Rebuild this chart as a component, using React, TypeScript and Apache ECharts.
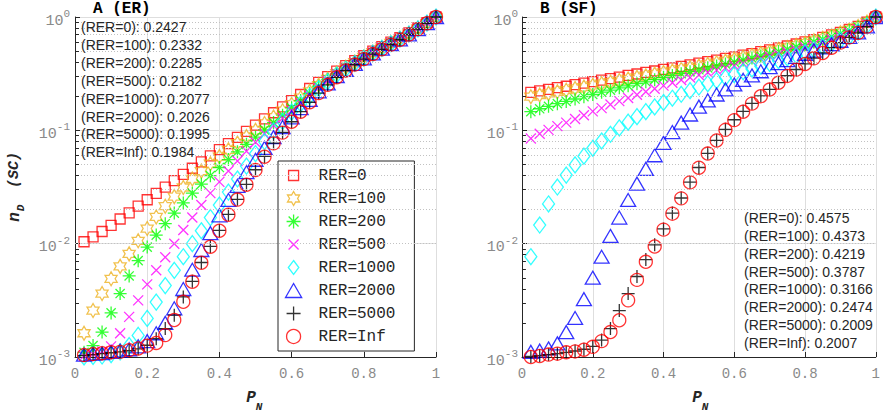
import React, { useEffect, useRef } from 'react';
import * as echarts from 'echarts';

// ---------------- data ----------------
const PN = [0.025, 0.05, 0.075, 0.1, 0.125, 0.15, 0.175, 0.2, 0.225, 0.25, 0.275, 0.3, 0.325, 0.35, 0.375, 0.4, 0.425, 0.45, 0.475, 0.5,
  0.525, 0.55, 0.575, 0.6, 0.625, 0.65, 0.675, 0.7, 0.725, 0.75, 0.775, 0.8, 0.825, 0.85, 0.875, 0.9, 0.925, 0.95, 0.975, 1.0];

const NAMES = ['RER=0', 'RER=100', 'RER=200', 'RER=500', 'RER=1000', 'RER=2000', 'RER=5000', 'RER=Inf'];
const RER_TAGS = ['0', '100', '200', '500', '1000', '2000', '5000', 'Inf'];
const SCORE_ER = [0.2427, 0.2332, 0.2285, 0.2182, 0.2077, 0.2026, 0.1995, 0.1984];
const SCORE_SF = [0.4575, 0.4373, 0.4219, 0.3787, 0.3166, 0.2474, 0.2009, 0.2007];

// Panel A (ER)
const ER_0 = [0.0104, 0.0115, 0.0128, 0.0145, 0.0165, 0.0187, 0.0214, 0.0244, 0.0278, 0.0316, 0.0360, 0.0408, 0.0463, 0.0526, 0.0596, 0.0675, 0.0764, 0.0865, 0.0980, 0.111,
  0.126, 0.143, 0.161, 0.183, 0.207, 0.234, 0.265, 0.298, 0.333, 0.372, 0.412, 0.455, 0.500, 0.548, 0.600, 0.658, 0.724, 0.802, 0.891, 1.0];
const ER_100 = [0.00162, 0.00257, 0.00363, 0.00490, 0.00631, 0.00813, 0.0106, 0.0136, 0.0172, 0.0214, 0.0260, 0.0313, 0.0372, 0.0437, 0.0507, 0.0586, 0.0673, 0.0771, 0.0881, 0.100,
  0.115, 0.131, 0.149, 0.170, 0.194, 0.221, 0.251, 0.284, 0.320, 0.359, 0.400, 0.444, 0.489, 0.537, 0.590, 0.649, 0.716, 0.794, 0.889, 1.0];
const ER_200 = [0.00110, 0.00126, 0.00166, 0.00245, 0.00363, 0.00519, 0.00708, 0.00933, 0.0119, 0.0150, 0.0186, 0.0229, 0.0279, 0.0335, 0.0398, 0.0470, 0.0552, 0.0646, 0.0752, 0.0871,
  0.101, 0.117, 0.136, 0.158, 0.183, 0.212, 0.245, 0.281, 0.316, 0.356, 0.397, 0.441, 0.486, 0.535, 0.588, 0.646, 0.714, 0.793, 0.887, 1.0];
const ER_500 = [0.00102, 0.00106, 0.00112, 0.00124, 0.00162, 0.00226, 0.00316, 0.00437, 0.00582, 0.00759, 0.0100, 0.0132, 0.0170, 0.0219, 0.0279, 0.0351, 0.0437, 0.0537, 0.0653, 0.0785,
  0.0933, 0.110, 0.128, 0.149, 0.173, 0.203, 0.237, 0.274, 0.313, 0.352, 0.394, 0.439, 0.484, 0.532, 0.585, 0.643, 0.711, 0.791, 0.885, 1.0];
const ER_1000 = [0.00100, 0.00101, 0.00102, 0.00105, 0.00111, 0.00126, 0.00155, 0.00219, 0.00305, 0.00427, 0.00582, 0.00767, 0.0100, 0.0130, 0.0170, 0.0219, 0.0285, 0.0372, 0.0484, 0.0624,
  0.0794, 0.0989, 0.120, 0.145, 0.171, 0.200, 0.233, 0.269, 0.308, 0.347, 0.389, 0.434, 0.480, 0.528, 0.581, 0.638, 0.705, 0.785, 0.883, 1.0];
const ER_2000 = [0.00105, 0.00107, 0.00108, 0.00111, 0.00114, 0.00117, 0.00124, 0.00138, 0.00162, 0.00200, 0.00269, 0.00398, 0.00589, 0.00879, 0.0124, 0.0178, 0.0243, 0.0324, 0.0427, 0.0550,
  0.0700, 0.0871, 0.107, 0.130, 0.157, 0.186, 0.221, 0.260, 0.301, 0.342, 0.386, 0.431, 0.478, 0.526, 0.578, 0.635, 0.703, 0.783, 0.883, 1.0];
const ER_5000 = [0.00103, 0.00105, 0.00107, 0.00109, 0.00111, 0.00114, 0.00118, 0.00127, 0.00145, 0.00178, 0.00234, 0.00339, 0.00465, 0.00682, 0.00945, 0.0131, 0.0181, 0.0246, 0.0333, 0.0449,
  0.0588, 0.0770, 0.0958, 0.119, 0.146, 0.177, 0.213, 0.252, 0.294, 0.337, 0.380, 0.425, 0.471, 0.519, 0.570, 0.630, 0.700, 0.782, 0.881, 1.0];
const ER_INF = [0.00104, 0.00106, 0.00108, 0.00110, 0.00111, 0.00115, 0.00119, 0.00126, 0.00133, 0.00156, 0.00212, 0.00307, 0.00461, 0.00679, 0.00940, 0.0130, 0.0180, 0.0245, 0.0331, 0.0447,
  0.0585, 0.0767, 0.0955, 0.119, 0.146, 0.177, 0.213, 0.252, 0.294, 0.337, 0.380, 0.425, 0.471, 0.519, 0.570, 0.630, 0.700, 0.782, 0.881, 1.0];

// Panel B (SF)
const SF_0 = [0.216, 0.223, 0.230, 0.238, 0.245, 0.253, 0.261, 0.269, 0.277, 0.286, 0.295, 0.305, 0.314, 0.324, 0.334, 0.345, 0.356, 0.367, 0.378, 0.391,
  0.404, 0.417, 0.431, 0.445, 0.460, 0.476, 0.494, 0.513, 0.533, 0.555, 0.578, 0.603, 0.631, 0.661, 0.695, 0.733, 0.776, 0.828, 0.902, 1.0];
const SF_100 = [0.198, 0.205, 0.212, 0.219, 0.226, 0.234, 0.241, 0.249, 0.258, 0.266, 0.275, 0.284, 0.293, 0.303, 0.313, 0.324, 0.334, 0.346, 0.356, 0.369,
  0.382, 0.395, 0.409, 0.424, 0.440, 0.457, 0.475, 0.494, 0.515, 0.538, 0.562, 0.587, 0.618, 0.649, 0.684, 0.724, 0.769, 0.822, 0.900, 1.0];
const SF_200 = [0.146, 0.155, 0.163, 0.172, 0.180, 0.189, 0.198, 0.207, 0.217, 0.226, 0.237, 0.247, 0.258, 0.268, 0.280, 0.292, 0.304, 0.316, 0.329, 0.342,
  0.356, 0.370, 0.385, 0.400, 0.417, 0.434, 0.453, 0.473, 0.495, 0.519, 0.545, 0.571, 0.603, 0.635, 0.673, 0.713, 0.760, 0.817, 0.895, 1.0];
const SF_500 = [0.0847, 0.0933, 0.101, 0.109, 0.117, 0.126, 0.136, 0.147, 0.157, 0.169, 0.181, 0.193, 0.206, 0.219, 0.233, 0.248, 0.263, 0.278, 0.293, 0.308,
  0.324, 0.340, 0.356, 0.372, 0.390, 0.408, 0.428, 0.448, 0.469, 0.491, 0.515, 0.541, 0.569, 0.600, 0.634, 0.673, 0.719, 0.780, 0.867, 1.0];
const SF_1000 = [0.00767, 0.0146, 0.0224, 0.0316, 0.0403, 0.0495, 0.0592, 0.0695, 0.0805, 0.0923, 0.105, 0.118, 0.132, 0.146, 0.161, 0.176, 0.192, 0.208, 0.224, 0.241,
  0.258, 0.275, 0.292, 0.310, 0.329, 0.348, 0.368, 0.389, 0.411, 0.435, 0.459, 0.486, 0.515, 0.547, 0.582, 0.622, 0.671, 0.736, 0.836, 1.0];
const SF_2000 = [0.00111, 0.00114, 0.00119, 0.00132, 0.00166, 0.00221, 0.00324, 0.00501, 0.00767, 0.0117, 0.0170, 0.0243, 0.0339, 0.0457, 0.0603, 0.0776, 0.0966, 0.117, 0.138, 0.162,
  0.184, 0.207, 0.230, 0.254, 0.279, 0.305, 0.332, 0.361, 0.391, 0.417, 0.445, 0.474, 0.506, 0.540, 0.575, 0.617, 0.667, 0.731, 0.828, 1.0];
const SF_5000 = [0.00101, 0.00103, 0.00105, 0.00107, 0.00110, 0.00113, 0.00117, 0.00124, 0.00141, 0.00178, 0.00257, 0.00363, 0.00513, 0.00724, 0.00977, 0.0135, 0.0186, 0.0253, 0.0349, 0.0470,
  0.0627, 0.0816, 0.102, 0.124, 0.147, 0.173, 0.201, 0.230, 0.264, 0.303, 0.344, 0.386, 0.433, 0.482, 0.536, 0.595, 0.662, 0.725, 0.823, 1.0];
const SF_INF = [0.00100, 0.00102, 0.00105, 0.00107, 0.00110, 0.00112, 0.00116, 0.00123, 0.00138, 0.00166, 0.00211, 0.00316, 0.00479, 0.00692, 0.00944, 0.0133, 0.0184, 0.0251, 0.0347, 0.0468,
  0.0624, 0.0813, 0.101, 0.123, 0.146, 0.172, 0.200, 0.229, 0.263, 0.302, 0.343, 0.385, 0.432, 0.481, 0.535, 0.594, 0.661, 0.724, 0.822, 1.0];

const Y_MINOR = [0.002, 0.003, 0.004, 0.005, 0.006, 0.007, 0.008, 0.009,
  0.02, 0.03, 0.04, 0.05, 0.06, 0.07, 0.08, 0.09,
  0.2, 0.3, 0.4, 0.5, 0.6, 0.7, 0.8, 0.9];

const PANEL_A = [ER_0, ER_100, ER_200, ER_500, ER_1000, ER_2000, ER_5000, ER_INF];
const PANEL_B = [SF_0, SF_100, SF_200, SF_500, SF_1000, SF_2000, SF_5000, SF_INF];

// ---------------- styles ----------------
const COLORS = ['#FF0000', '#EDB120', '#00FF00', '#FF00FF', '#00FFFF', '#0000FF', '#000000', '#FF0000'];
const SQUARE = 'path://M-7,-7M7,7M-5,-5L5,-5L5,5L-5,5Z';
const STAR = 'path://M0,-10L2.887,-5L8.66,-5L5.774,0L8.66,5L2.887,5L0,10L-2.887,5L-8.66,5L-5.774,0L-8.66,-5L-2.887,-5Z';
const ASTER = 'path://M0,-10L0,10M-10,0L10,0M-7.07,-7.07L7.07,7.07M-7.07,7.07L7.07,-7.07';
const XMARK = 'path://M-7,-7M7,7M-5,-5L5,5M-5,5L5,-5';
const PLUS = 'path://M0,-10L0,10M-10,0L10,0';
const DIAMOND = 'path://M0,-8L6,0L0,8L-6,0Z';
const TRIANGLE = 'path://M0,-6.5L7.5,6.5L-7.5,6.5Z';
const SYMBOLS = [SQUARE, STAR, ASTER, XMARK, DIAMOND, TRIANGLE, PLUS, 'circle'];
const SIZES = [14, 14, 13, 14, 16, 15, 13, 13];

const AXIS_COLOR = '#262626';
const TICK_LABEL = '#8a8a8a';
const MONO = 'Liberation Mono';
const SANS = 'Liberation Sans';

function txt(x: number, y: number, text: string, o: any = {}) {
  return {
    type: 'text', x, y, z: 10, rotation: o.rotation || 0,
    style: {
      text, fill: o.fill || AXIS_COLOR, fontSize: o.fontSize || 14, fontFamily: o.fontFamily || SANS,
      fontWeight: o.fontWeight || 'normal', fontStyle: o.fontStyle || 'normal',
      align: o.align || 'left', verticalAlign: 'middle',
    },
  };
}

function buildOption() {
  const grids = [
    { left: 75, top: 17, width: 361, height: 340 },
    { left: 522, top: 17, width: 360, height: 340 },
  ];
  const xAxes = [0, 1].map((gi) => ({
    type: 'value', gridIndex: gi, min: 0, max: 1, interval: 0.2,
    axisLine: { show: true, onZero: false, lineStyle: { color: AXIS_COLOR, width: 1 } },
    axisTick: { show: true, inside: true, length: 5, lineStyle: { color: AXIS_COLOR } },
    axisLabel: {
      margin: 10, fontFamily: MONO, fontSize: 14, color: TICK_LABEL,
      formatter: (v: number) => (v === 0 ? '0' : v === 1 ? '1' : v.toFixed(1)),
    },
    splitLine: { show: true, lineStyle: { color: '#dedede', width: 1 } },
  }));
  const yAxes = [0, 1].map((gi) => ({
    type: 'log', logBase: 10, gridIndex: gi, min: 0.001, max: 1,
    axisLine: { show: true, onZero: false, lineStyle: { color: AXIS_COLOR, width: 1 } },
    axisTick: { show: true, inside: true, length: 5, lineStyle: { color: AXIS_COLOR } },
    axisLabel: {
      margin: gi === 0 ? 5 : 4,
      formatter: (v: number) => `{b|10}{s|${Math.round(Math.log10(v))}}`,
      rich: {
        b: { fontFamily: MONO, fontSize: 15, color: TICK_LABEL, padding: [8, 0, 0, 0], verticalAlign: 'bottom' },
        s: { fontFamily: MONO, fontSize: 11, color: TICK_LABEL, padding: [3, 0, 0, 0], verticalAlign: 'top' },
      },
    },
    splitLine: { show: true, lineStyle: { color: '#dedede', width: 1 } },
  }));

  const series: any[] = [];
  [0, 1].forEach((gi) => {
    series.push({
      type: 'line', xAxisIndex: gi, yAxisIndex: gi, data: [[0.5, 0.5]], showSymbol: false, symbol: 'none',
      lineStyle: { width: 0, opacity: 0 }, silent: true, z: 1,
      markLine: {
        silent: true, symbol: ['none', 'none'], label: { show: false }, animation: false,
        lineStyle: { color: '#c2c2c2', type: [1, 2], width: 1 },
        emphasis: { disabled: true },
        data: Y_MINOR.map((v) => ({ yAxis: v })),
      },
    });
    series.push({
      type: 'line', xAxisIndex: gi, yAxisIndex: gi, data: [[0.5, 0.5]], showSymbol: false, symbol: 'none',
      lineStyle: { width: 0, opacity: 0 }, silent: true, z: 1,
      markLine: {
        silent: true, symbol: ['none', 'none'], label: { show: false }, animation: false,
        lineStyle: { color: AXIS_COLOR, type: 'solid', width: 1 },
        emphasis: { disabled: true },
        data: Y_MINOR.map((v) => [{ coord: [0, v] }, { coord: [0.011, v] }]),
      },
    });
    const panel = gi === 0 ? PANEL_A : PANEL_B;
    panel.forEach((vals, i) => {
      series.push({
        type: 'scatter', name: NAMES[i], xAxisIndex: gi, yAxisIndex: gi,
        data: PN.map((x, j) => [x, vals[j]]),
        symbol: SYMBOLS[i], symbolSize: SIZES[i], symbolKeepAspect: true,
        itemStyle: { color: 'none', borderColor: COLORS[i], borderWidth: 1.3 },
        emphasis: { disabled: true }, silent: true, z: 2,
      });
    });
  });

  const graphics: any[] = [];
  SCORE_ER.forEach((s, i) => graphics.push(txt(81, 27.3 + i * 17.85, `(RER=${RER_TAGS[i]}): ${s.toFixed(4)}`)));
  SCORE_SF.forEach((s, i) => graphics.push(txt(744, 218.3 + i * 17.77, `(RER=${RER_TAGS[i]}): ${s.toFixed(4)}`)));

  graphics.push(txt(93, 9, 'A (ER)', { fontFamily: MONO, fontWeight: 'bold', fontSize: 16, fill: '#000' }));
  graphics.push(txt(540, 9, 'B (SF)', { fontFamily: MONO, fontWeight: 'bold', fontSize: 16, fill: '#000' }));
  const bi = { fontFamily: MONO, fontWeight: 'bold', fontStyle: 'italic', align: 'center' };
  graphics.push(txt(251, 398, 'P', { ...bi, fontSize: 16 }));
  graphics.push(txt(259, 407, 'N', { ...bi, fontSize: 11 }));
  graphics.push(txt(697, 398, 'P', { ...bi, fontSize: 16 }));
  graphics.push(txt(705, 407, 'N', { ...bi, fontSize: 11 }));
  graphics.push(txt(14, 170, '(SC)', { ...bi, fontSize: 15, rotation: Math.PI / 2 }));
  graphics.push(txt(15, 217, 'n', { ...bi, fontSize: 16, rotation: Math.PI / 2 }));
  graphics.push(txt(21, 208, 'D', { ...bi, fontSize: 11, rotation: Math.PI / 2 }));

  return {
    animation: false,
    backgroundColor: '#ffffff',
    grid: grids,
    xAxis: xAxes,
    yAxis: yAxes,
    legend: {
      orient: 'vertical', left: 278, top: 161,
      itemWidth: 40, itemHeight: 14, itemGap: 4,
      symbolKeepAspect: true,
      padding: [5, 19, 5, 5],
      backgroundColor: '#ffffff', borderColor: AXIS_COLOR, borderWidth: 1,
      selectedMode: false,
      textStyle: { fontFamily: MONO, fontSize: 16, color: AXIS_COLOR },
      itemStyle: { borderWidth: 1.3 },
      data: NAMES,
    },
    series,
    graphic: graphics,
  };
}

export default function App() {
  const ref = useRef<HTMLDivElement>(null);
  useEffect(() => {
    if (!ref.current) return;
    const chart = echarts.init(ref.current, null, { renderer: 'svg' });
    chart.setOption(buildOption() as any);
    return () => chart.dispose();
  }, []);
  return (
    <div style={{ position: 'fixed', left: 0, top: 0, width: 883, height: 417, background: '#fff' }}>
      <div ref={ref} style={{ width: 883, height: 417 }} />
    </div>
  );
}
